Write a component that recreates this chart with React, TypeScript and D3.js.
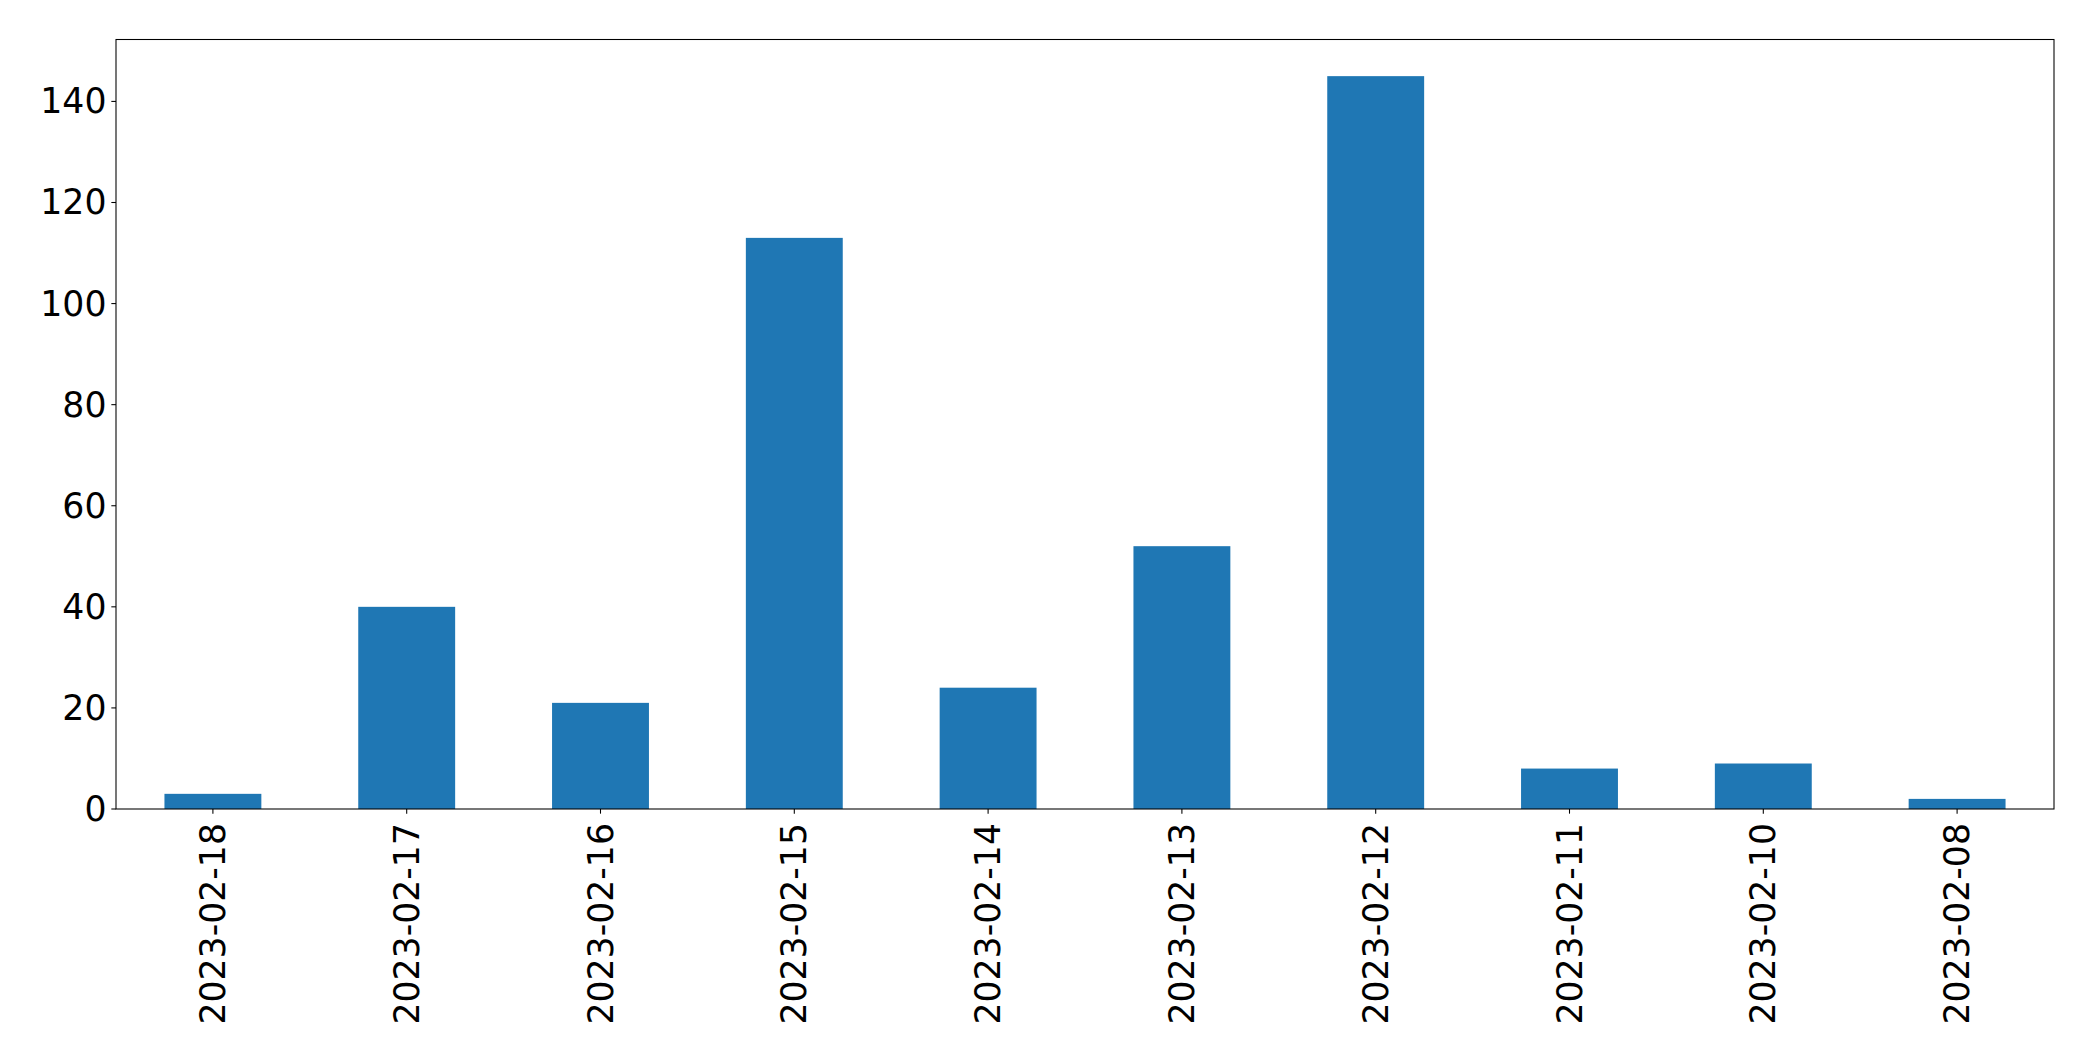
import React from "react";
import * as d3 from "d3";

const categories = ["2023-02-18","2023-02-17","2023-02-16","2023-02-15","2023-02-14","2023-02-13","2023-02-12","2023-02-11","2023-02-10","2023-02-08"];
const values = [3, 40, 21, 113, 24, 52, 145, 8, 9, 2];
const yTicks = [0, 20, 40, 60, 80, 100, 120, 140];

export default function App() {
  const W = 2093, H = 1061;
  const left = 116, right = 2054, top = 39.5, bottom = 809;
  const x = d3.scaleBand<string>().domain(categories).range([left, right]).paddingInner(0.5).paddingOuter(0.25);
  const yMax = d3.max(values)! * 1.05;
  const y = d3.scaleLinear().domain([0, yMax]).range([bottom, top]);
  const font = "DejaVu Sans";
  const fs = 34.7;
  return (
    <svg width={W} height={H} style={{ position: "absolute", left: 0, top: 0, background: "#fff" }}>
      <rect x={0} y={0} width={W} height={H} fill="#fff" />
      {categories.map((c, i) => (
        <rect key={c} x={x(c)!} y={y(values[i])} width={x.bandwidth()} height={y(0) - y(values[i])} fill="#1f77b4" />
      ))}
      <rect x={left} y={top} width={right - left} height={bottom - top} fill="none" stroke="#000" strokeWidth={1.07} />
      {yTicks.map(t => (
        <g key={t}>
          <line x1={left - 4.67} x2={left} y1={y(t)} y2={y(t)} stroke="#000" strokeWidth={1.07} />
          <text x={left - 9.5} y={y(t)} textAnchor="end" dominantBaseline="central" fontFamily={font} fontSize={fs} fill="#000">{t}</text>
        </g>
      ))}
      {categories.map(c => {
        const cx = x(c)! + x.bandwidth() / 2;
        return (
          <g key={c}>
            <line x1={cx} x2={cx} y1={bottom} y2={bottom + 4.67} stroke="#000" strokeWidth={1.07} />
            <text transform={`translate(${cx},${bottom + 14}) rotate(-90)`} textAnchor="end" dominantBaseline="central" fontFamily={font} fontSize={fs} fill="#000">{c}</text>
          </g>
        );
      })}
    </svg>
  );
}
